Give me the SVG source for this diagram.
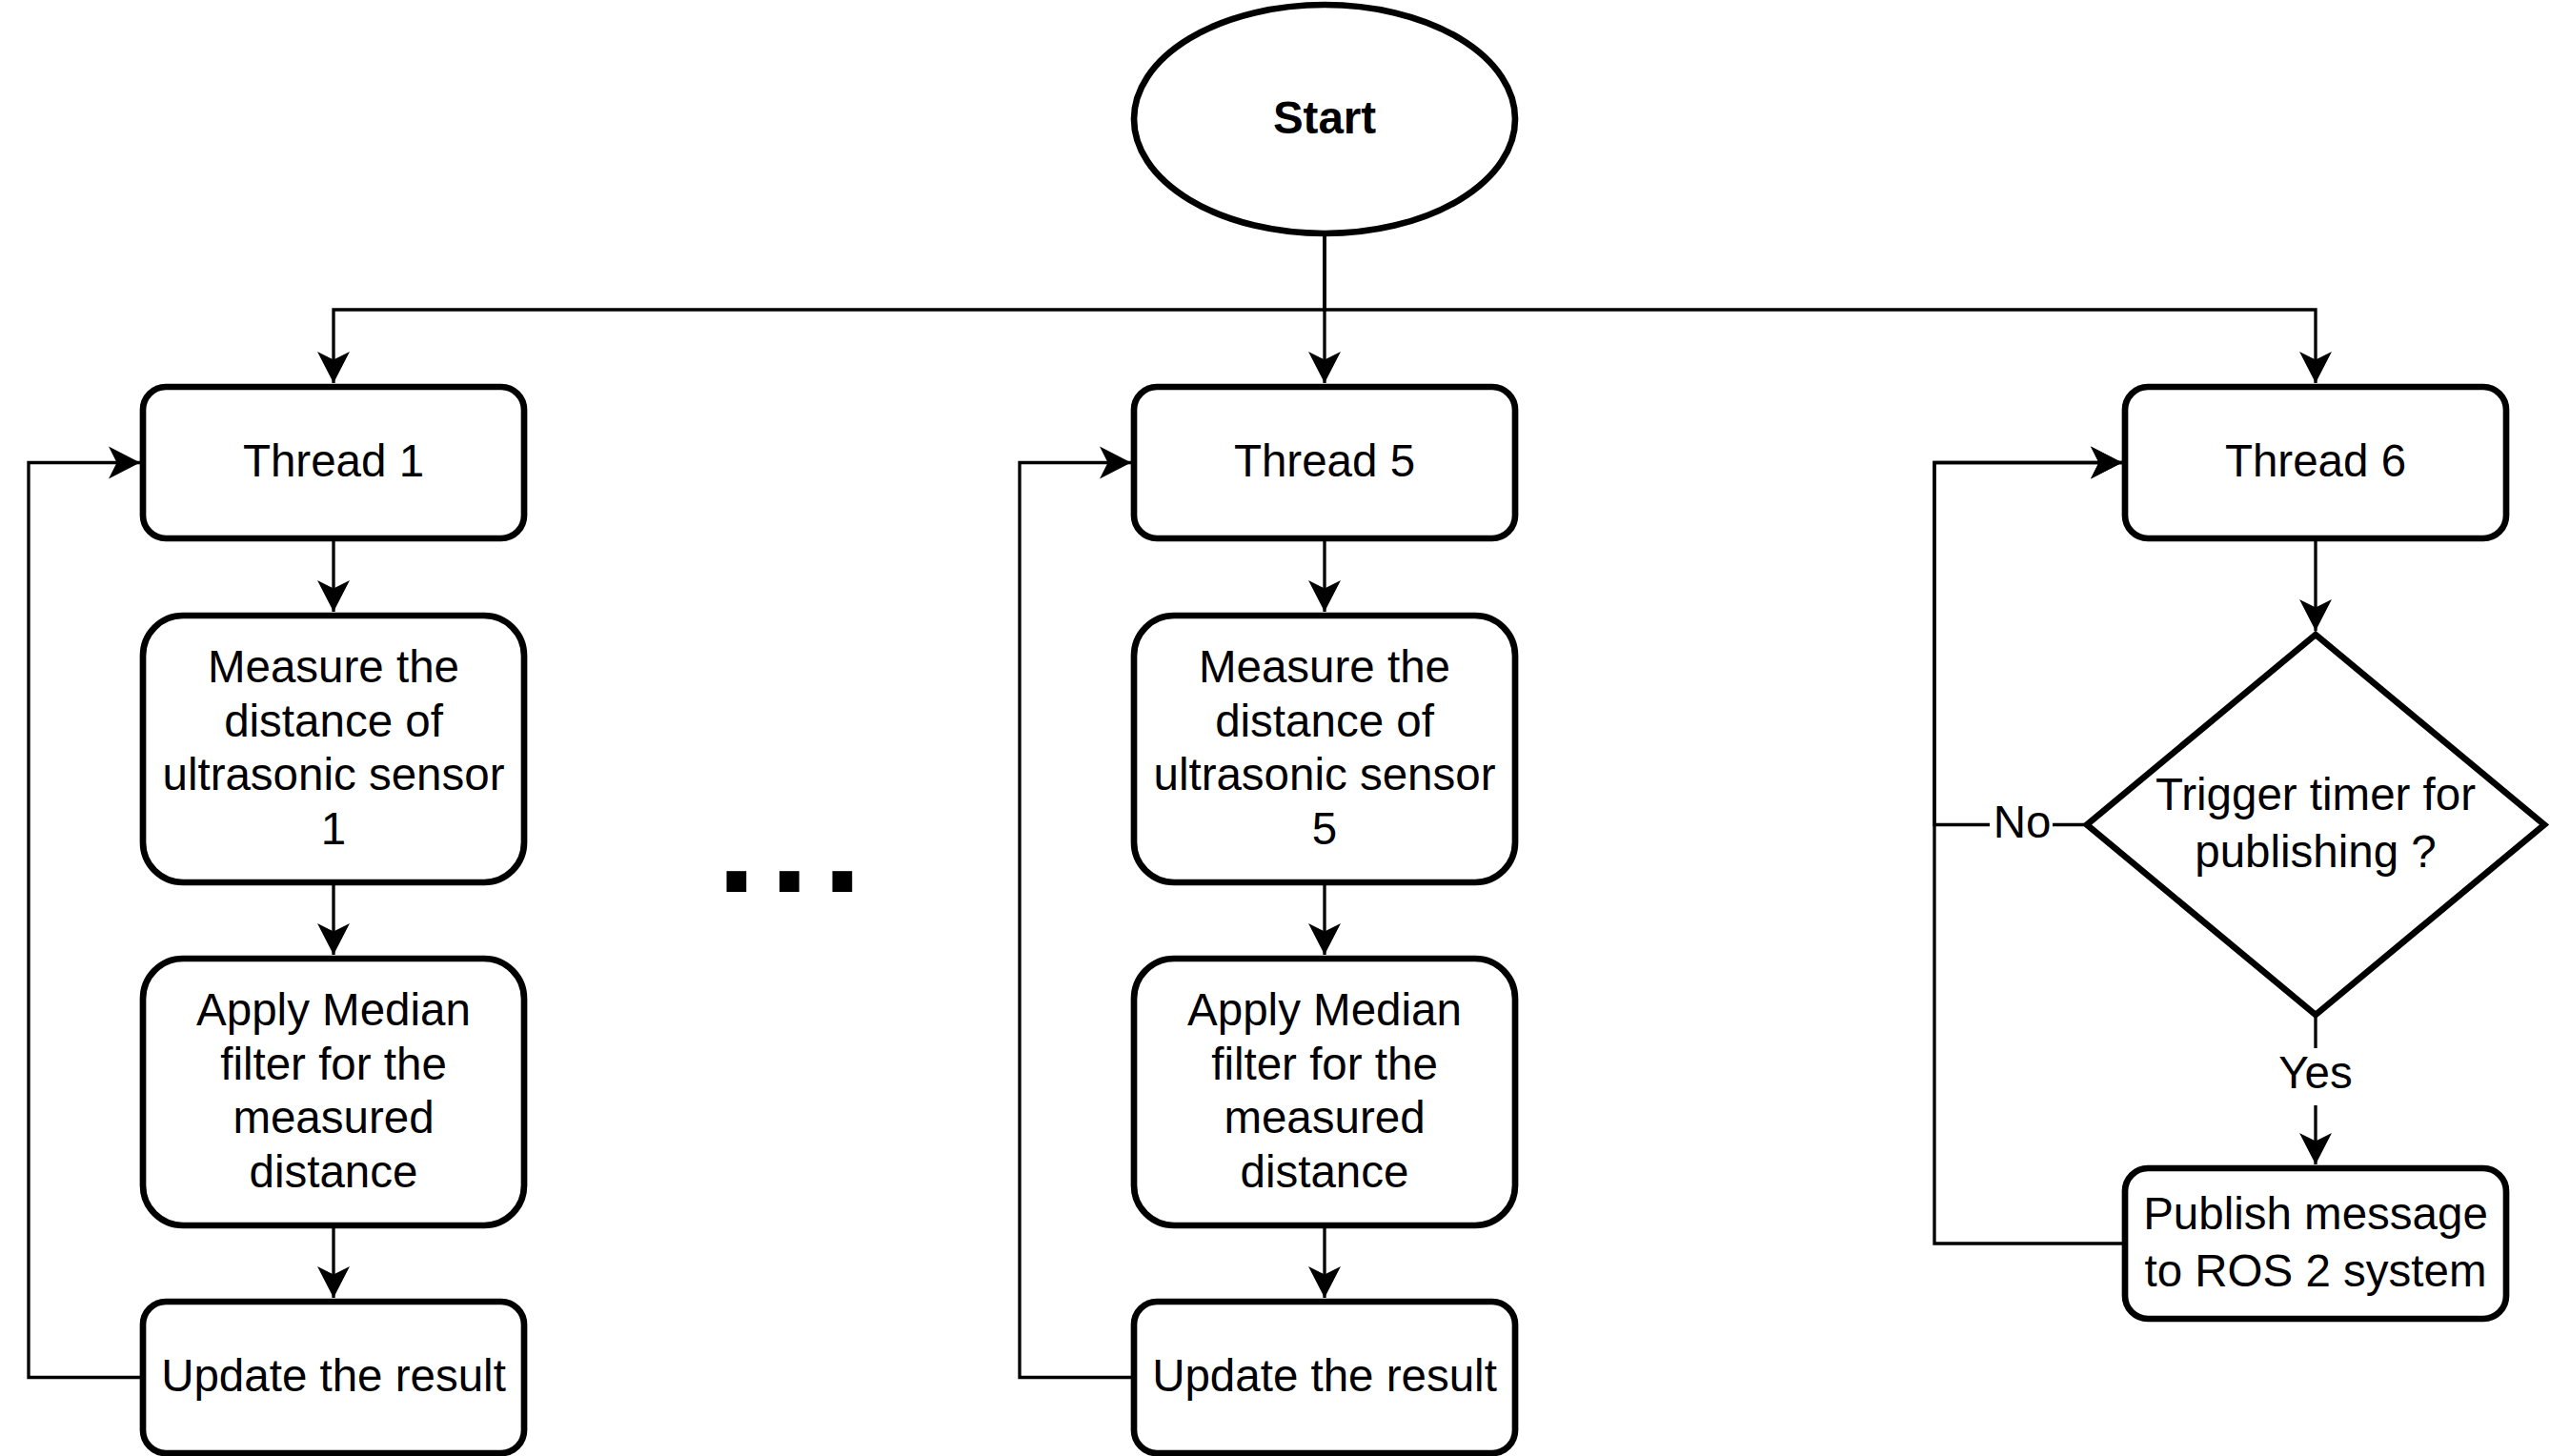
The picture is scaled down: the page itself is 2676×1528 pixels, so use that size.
<svg xmlns="http://www.w3.org/2000/svg" width="2676" height="1528" viewBox="0 0 2676 1528">
  <style>
    .node { fill: #ffffff; stroke: #000000; stroke-width: 6.67; }
    .edge { fill: none; stroke: #000000; stroke-width: 3.33; }
    .t { font-family: "Liberation Sans", Arial, Helvetica, sans-serif; font-size: 47.5px; fill: #000000; text-anchor: middle; }
    .b { font-weight: bold; }
  </style>
  <defs>
    <marker id="arr" markerUnits="userSpaceOnUse" viewBox="-35 -19 37 38" markerWidth="37" markerHeight="38" refX="0" refY="0" orient="auto">
      <path d="M0,0 L-33,-17 L-24.5,0 L-33,17 Z" fill="#000000"/>
    </marker>
  </defs>
  <rect x="0" y="0" width="2676" height="1528" fill="#ffffff"/>

  <g id="connectors">
    <path class="edge" d="M1390,245 V325 H350 V402" marker-end="url(#arr)"/>
    <path class="edge" d="M1390,245 V402" marker-end="url(#arr)"/>
    <path class="edge" d="M1390,245 V325 H2430 V402" marker-end="url(#arr)"/>

    <path class="edge" d="M350,565 V642" marker-end="url(#arr)"/>
    <path class="edge" d="M350,926 V1002" marker-end="url(#arr)"/>
    <path class="edge" d="M350,1286 V1362" marker-end="url(#arr)"/>
    <path class="edge" d="M150,1445.5 H30 V485.5 H147" marker-end="url(#arr)"/>

    <path class="edge" d="M1390,565 V642" marker-end="url(#arr)"/>
    <path class="edge" d="M1390,926 V1002" marker-end="url(#arr)"/>
    <path class="edge" d="M1390,1286 V1362" marker-end="url(#arr)"/>
    <path class="edge" d="M1190,1445.5 H1070 V485.5 H1187" marker-end="url(#arr)"/>

    <path class="edge" d="M2430,565 V662" marker-end="url(#arr)"/>
    <path class="edge" d="M2430,1065 V1222" marker-end="url(#arr)"/>
    <path class="edge" d="M2190,865.5 H2030 V485.5 H2227" marker-end="url(#arr)"/>
    <path class="edge" d="M2230,1305 H2030 V485.5 H2227" marker-end="url(#arr)"/>

    <g id="label-no">
      <rect x="2088" y="838" width="66" height="54" fill="#ffffff"/>
      <text class="t" x="2122" y="879">No</text>
    </g>
    <g id="label-yes">
      <rect x="2390" y="1100" width="80" height="60" fill="#ffffff"/>
      <text class="t" x="2430" y="1142">Yes</text>
    </g>
  </g>

  <g id="start">
    <ellipse class="node" cx="1390" cy="125" rx="200" ry="120"/>
    <text class="t b" x="1390" y="139.5">Start</text>
  </g>

  <g id="thread1">
    <rect class="node" x="150" y="406" width="400" height="159" rx="24" ry="24"/>
    <text class="t" x="350" y="500">Thread 1</text>
  </g>
  <g id="measure1">
    <rect class="node" x="150" y="646" width="400" height="280" rx="42" ry="42"/>
    <text class="t" x="350" y="716">Measure the</text>
    <text class="t" x="350" y="772.5">distance of</text>
    <text class="t" x="350" y="829">ultrasonic sensor</text>
    <text class="t" x="350" y="885.5">1</text>
  </g>
  <g id="filter1">
    <rect class="node" x="150" y="1006" width="400" height="280" rx="42" ry="42"/>
    <text class="t" x="350" y="1076">Apply Median</text>
    <text class="t" x="350" y="1132.5">filter for the</text>
    <text class="t" x="350" y="1189">measured</text>
    <text class="t" x="350" y="1245.5">distance</text>
  </g>
  <g id="update1">
    <rect class="node" x="150" y="1366" width="400" height="159" rx="24" ry="24"/>
    <text class="t" x="350" y="1460">Update the result</text>
  </g>

  <g id="ellipsis">
    <text x="752.5" y="936" font-family="Liberation Sans, Arial, Helvetica, sans-serif" font-weight="bold" font-size="147" letter-spacing="14.7" fill="#000000">...</text>
  </g>

  <g id="thread5">
    <rect class="node" x="1190" y="406" width="400" height="159" rx="24" ry="24"/>
    <text class="t" x="1390" y="500">Thread 5</text>
  </g>
  <g id="measure5">
    <rect class="node" x="1190" y="646" width="400" height="280" rx="42" ry="42"/>
    <text class="t" x="1390" y="716">Measure the</text>
    <text class="t" x="1390" y="772.5">distance of</text>
    <text class="t" x="1390" y="829">ultrasonic sensor</text>
    <text class="t" x="1390" y="885.5">5</text>
  </g>
  <g id="filter5">
    <rect class="node" x="1190" y="1006" width="400" height="280" rx="42" ry="42"/>
    <text class="t" x="1390" y="1076">Apply Median</text>
    <text class="t" x="1390" y="1132.5">filter for the</text>
    <text class="t" x="1390" y="1189">measured</text>
    <text class="t" x="1390" y="1245.5">distance</text>
  </g>
  <g id="update5">
    <rect class="node" x="1190" y="1366" width="400" height="159" rx="24" ry="24"/>
    <text class="t" x="1390" y="1460">Update the result</text>
  </g>

  <g id="thread6">
    <rect class="node" x="2230" y="406" width="400" height="159" rx="24" ry="24"/>
    <text class="t" x="2430" y="500">Thread 6</text>
  </g>
  <g id="decision">
    <path class="node" d="M2430,666 L2670,865.5 L2430,1065 L2190,865.5 Z" stroke-linejoin="miter"/>
    <text class="t" x="2430" y="850">Trigger timer for</text>
    <text class="t" x="2430" y="910">publishing ?</text>
  </g>
  <g id="publish">
    <rect class="node" x="2230" y="1226" width="400" height="158" rx="24" ry="24"/>
    <text class="t" x="2430" y="1290">Publish message</text>
    <text class="t" x="2430" y="1350">to ROS 2 system</text>
  </g>
</svg>
